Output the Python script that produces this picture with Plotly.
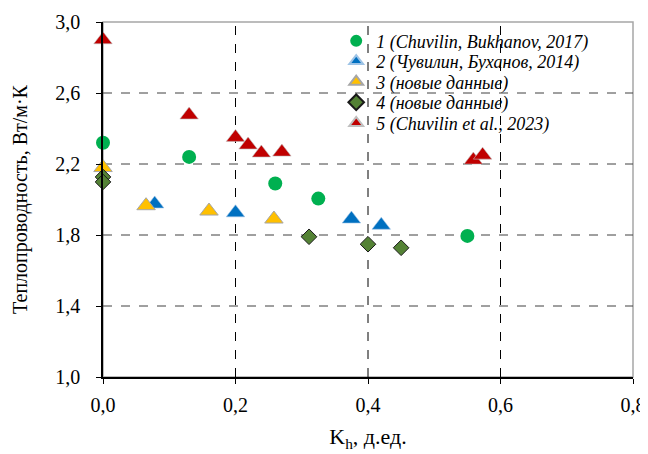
import plotly.graph_objects as go

# Series data (Kh, thermal conductivity)
s1_x = [0.0, 0.13, 0.26, 0.325, 0.55]
s1_y = [2.32, 2.24, 2.09, 2.005, 1.795]

s2_x = [0.078, 0.20, 0.375, 0.42]
s2_y = [1.975, 1.925, 1.89, 1.855]

s3_x = [0.0, 0.065, 0.16, 0.258]
s3_y = [2.18, 1.965, 1.935, 1.89]

s4_x = [0.0, 0.0, 0.311, 0.40, 0.45]
s4_y = [2.127, 2.099, 1.79, 1.748, 1.728]

s5_x = [0.0, 0.13, 0.20, 0.219, 0.239, 0.27, 0.559, 0.573]
s5_y = [2.90, 2.476, 2.35, 2.307, 2.262, 2.267, 2.222, 2.25]

names = ["1 (Chuvilin, Bukhanov, 2017)", "2 (Чувилин, Буханов, 2014)",
         "3 (новые данные)", "4 (новые данные)", "5 (Chuvilin et al., 2023)"]

x_ticks = [0.0, 0.2, 0.4, 0.6, 0.8]
x_tick_labels = ["0,0", "0,2", "0,4", "0,6", "0,8"]
y_ticks = [1.0, 1.4, 1.8, 2.2, 2.6, 3.0]
y_tick_labels = ["1,0", "1,4", "1,8", "2,2", "2,6", "3,0"]

FONT = "Liberation Serif"

series = [
    (s1_x, s1_y, dict(symbol="circle", size=14, color="#00B050", line=dict(width=0))),
    (s2_x, s2_y, dict(symbol="triangle-up", size=16, color="#0070C0",
                      line=dict(width=0.6, color="#9DC3E6"))),
    (s3_x, s3_y, dict(symbol="triangle-up", size=16, color="#FFC000",
                      line=dict(width=1, color="#A6A6A6"))),
    (s4_x, s4_y, dict(symbol="diamond", size=12, color="#548235",
                      line=dict(width=1, color="#1a1a1a"))),
    (s5_x, s5_y, dict(symbol="triangle-up", size=16, color="#C00000",
                      line=dict(width=0.6, color="#BFBFBF"))),
]
legend_ids = ["legend", "legend2", "legend3", "legend4", "legend5"]

fig = go.Figure()
for (xs, ys, mk), nm, lid in zip(series, names, legend_ids):
    fig.add_trace(go.Scatter(x=xs, y=ys, mode="markers", name=nm, cliponaxis=False,
                             marker=mk, legend=lid))

grid_color = "#404040"
for gx in [0.2, 0.4, 0.6]:
    fig.add_shape(type="line", xref="x", yref="y", x0=gx, x1=gx, y0=1.0, y1=3.0,
                  line=dict(color="#000000", width=1, dash="dash"), layer="below")
for gy in [1.4, 1.8, 2.2, 2.6]:
    fig.add_shape(type="line", xref="x", yref="y", x0=0.0, x1=0.8, y0=gy, y1=gy,
                  line=dict(color=grid_color, width=1, dash="dash"), layer="below")
# plot area border (top/right)
fig.add_shape(type="rect", xref="paper", yref="paper", x0=0, x1=1, y0=0, y1=1,
              line=dict(color="#A6A6A6", width=1.5), layer="below")

legend_rows_y = [0.946, 0.889, 0.831, 0.773, 0.715]
legend_layout = {}
for lid, ly in zip(legend_ids, legend_rows_y):
    legend_layout[lid] = dict(x=0.44, y=ly, xanchor="left", yanchor="middle",
                              bgcolor="rgba(255,255,255,0)", borderwidth=0,
                              font=dict(family=FONT, size=18, style="italic", color="#000000"),
                              itemsizing="constant", itemwidth=30)

fig.update_layout(
    width=640, height=446,
    margin=dict(l=95, r=15, t=14, b=77),
    paper_bgcolor="white", plot_bgcolor="white",
    font=dict(family=FONT, size=18, color="#000000"),
    showlegend=True,
    **legend_layout,
    xaxis=dict(range=[0, 0.8], tickvals=x_ticks, ticktext=x_tick_labels,
               showgrid=False, zeroline=False, showline=True, linecolor="#000000",
               linewidth=1.5, ticks="outside", ticklen=5, tickcolor="#000000",
               ticklabelstandoff=4, automargin=False,
               tickfont=dict(family=FONT, size=20),
               title=dict(text="K<sub>h</sub>, д.ед.", font=dict(family=FONT, size=22),
                          standoff=14)),
    yaxis=dict(range=[1.0, 3.0], tickvals=y_ticks, ticktext=y_tick_labels,
               showgrid=False, zeroline=False, showline=True, linecolor="#000000",
               linewidth=1.5, ticks="outside", ticklen=5, tickcolor="#000000",
               ticklabelstandoff=12, automargin=False,
               tickfont=dict(family=FONT, size=20),
               title=dict(text="Теплопроводность, Вт/м·К", font=dict(family=FONT, size=20),
                          standoff=22)),
)

fig.write_html("out.html")
